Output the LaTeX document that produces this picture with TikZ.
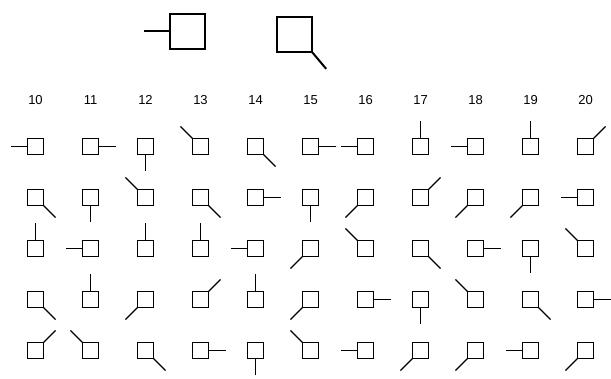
\documentclass[tikz,border=0pt]{standalone}
\usepackage{fontspec}
\setmainfont{Liberation Sans}

\begin{document}
\begin{tikzpicture}[x=1pt, y=1pt, line width=1.2pt,
  glyph/.style={draw, rectangle, minimum size=16pt, inner sep=0pt, outer sep=0pt},
  bigglyph/.style={glyph, minimum size=35pt, line width=2pt},
  colnum/.style={font=\fontsize{13}{15}\selectfont}]
  \useasboundingbox (0,0) rectangle (611,379);
  % the two large samples
  \node[bigglyph] (big1) at (187.5,347.5) {};
  \node[bigglyph] (big2) at (294.5,344.5) {};
  \draw[line width=2pt] (big1.west) -- ++(180:26);
  \draw[line width=2pt] (big2.south east) -- ++(-50:22);
  % column numbers
  \foreach \n [count=\c from 0] in {10,...,20}
    \node[colnum] (num\n) at (35.5+55*\c, 279) {\n};
  % rows of glyphs, one stick angle per column
  \foreach \angs [count=\r] in {
      {180,0,-90,135,-45,0,180,90,180,90,45},
      {-45,-90,135,-45,0,-90,-135,45,-135,-135,180},
      {90,180,90,90,180,-135,135,-45,0,-90,135},
      {-45,90,-135,45,90,-135,0,-90,135,-45,0},
      {45,135,-45,0,-90,135,180,-135,-135,180,-135}}
    \foreach \a [count=\c from 0] in \angs {
      \node[glyph] (g\r-\c) at (35.5+55*\c, 283.5-51*\r) {};
      \draw (g\r-\c.\a) -- ++(\a:17);
    }
\end{tikzpicture}
\end{document}
